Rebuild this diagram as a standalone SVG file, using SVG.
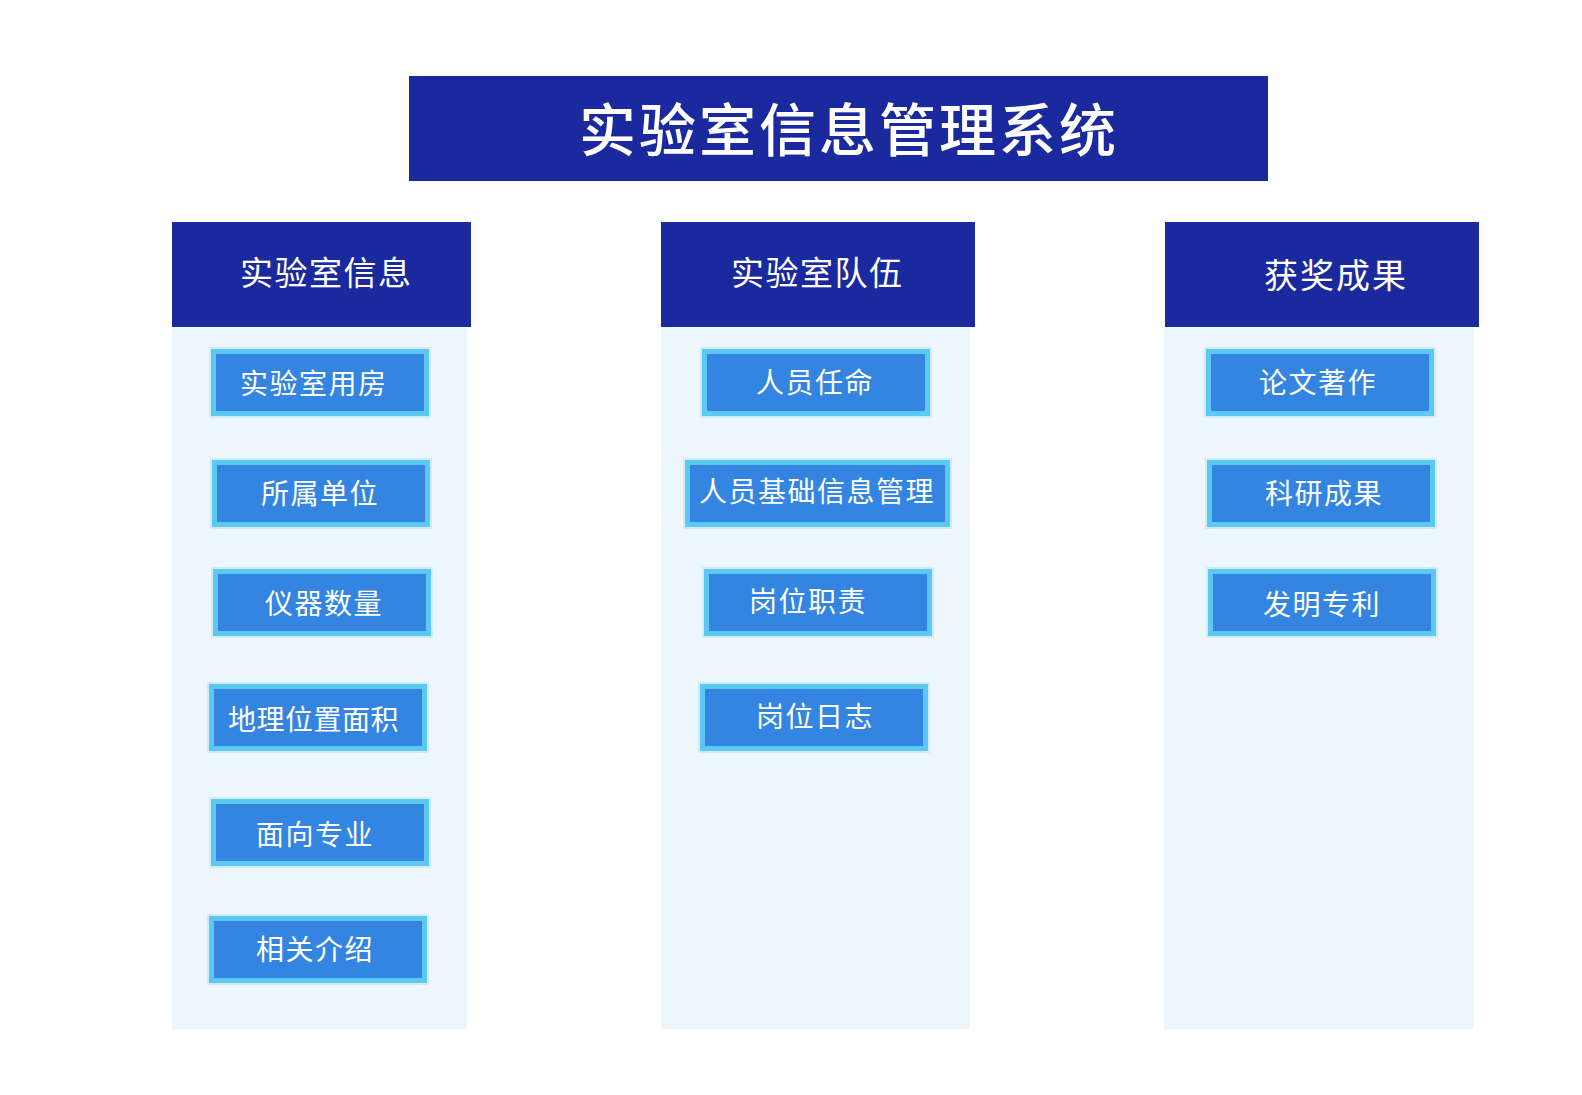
<svg xmlns="http://www.w3.org/2000/svg" width="1582" height="1095" viewBox="0 0 1582 1095">
<style>
.navy{fill:#1A2A9E}
.panel{fill:#EEF6FD}
.halo{fill:none;stroke:#B4E1F4;stroke-width:2;stroke-opacity:0.5}
.item{fill:#3385E1;stroke:#5BC9F1;stroke-width:5}
text{font-family:"Noto Sans CJK SC","Noto Sans",sans-serif;fill:#FFFFFF;dominant-baseline:central}
.t0{font-size:57px;letter-spacing:3px;font-weight:500}
.t1{font-size:33px;letter-spacing:1.5px;font-weight:400}
.t2{font-size:28px;letter-spacing:1.5px;font-weight:400}
</style>
<rect width="1582" height="1095" fill="#FFFFFF"/>
<g id="title">
<rect class="navy" x="409" y="76" width="859" height="105"/>
<text class="t0" x="579" y="126">实验室信息管理系统</text>
</g>
<g id="connectors"></g>
<g id="col1">
<rect class="panel" x="172" y="327" width="295" height="702"/>
<rect class="navy" x="172" y="222" width="299" height="105"/>
<text class="t1" x="240" y="271">实验室信息</text>
</g>
<g id="col2">
<rect class="panel" x="661" y="327" width="309" height="702"/>
<rect class="navy" x="661" y="222" width="314" height="105"/>
<text class="t1" x="731" y="271">实验室队伍</text>
</g>
<g id="col3">
<rect class="panel" x="1164" y="327" width="310" height="702"/>
<rect class="navy" x="1165" y="222" width="314" height="105"/>
<text class="t1" x="1264" y="273" style="font-size:34px;letter-spacing:2px">获奖成果</text>
</g>
<g id="n1"><rect class="halo" x="210" y="348" width="220" height="69"/><rect class="item" x="213.5" y="351.5" width="213" height="62"/><text class="t2" x="240" y="382">实验室用房</text></g>
<g id="n2"><rect class="halo" x="211" y="459" width="220" height="69"/><rect class="item" x="214.5" y="462.5" width="213" height="62"/><text class="t2" x="261" y="492">所属单位</text></g>
<g id="n3"><rect class="halo" x="212" y="568" width="220" height="69"/><rect class="item" x="215.5" y="571.5" width="213" height="62"/><text class="t2" x="265" y="602">仪器数量</text></g>
<g id="n4"><rect class="halo" x="208" y="683" width="220" height="69"/><rect class="item" x="211.5" y="686.5" width="213" height="62"/><text class="t2" x="228" y="718" style="letter-spacing:0.5px">地理位置面积</text></g>
<g id="n5"><rect class="halo" x="210" y="798" width="220" height="69"/><rect class="item" x="213.5" y="801.5" width="213" height="62"/><text class="t2" x="256" y="833">面向专业</text></g>
<g id="n6"><rect class="halo" x="208" y="915" width="220" height="69"/><rect class="item" x="211.5" y="918.5" width="213" height="62"/><text class="t2" x="256" y="948">相关介绍</text></g>
<g id="n7"><rect class="halo" x="701" y="348" width="230" height="69"/><rect class="item" x="704.5" y="351.5" width="223" height="62"/><text class="t2" x="756" y="381">人员任命</text></g>
<g id="n8"><rect class="halo" x="684" y="459" width="267" height="69"/><rect class="item" x="687.5" y="462.5" width="260" height="62"/><text class="t2" x="699" y="490">人员基础信息管理</text></g>
<g id="n9"><rect class="halo" x="703" y="568" width="230" height="69"/><rect class="item" x="706.5" y="571.5" width="223" height="62"/><text class="t2" x="749" y="600">岗位职责</text></g>
<g id="n10"><rect class="halo" x="699" y="683" width="230" height="69"/><rect class="item" x="702.5" y="686.5" width="223" height="62"/><text class="t2" x="756" y="715">岗位日志</text></g>
<g id="n11"><rect class="halo" x="1205" y="348" width="230" height="69"/><rect class="item" x="1208.5" y="351.5" width="223" height="62"/><text class="t2" x="1259" y="381">论文著作</text></g>
<g id="n12"><rect class="halo" x="1206" y="459" width="230" height="69"/><rect class="item" x="1209.5" y="462.5" width="223" height="62"/><text class="t2" x="1265" y="492">科研成果</text></g>
<g id="n13"><rect class="halo" x="1207" y="568" width="230" height="69"/><rect class="item" x="1210.5" y="571.5" width="223" height="62"/><text class="t2" x="1263" y="603">发明专利</text></g>
</svg>
